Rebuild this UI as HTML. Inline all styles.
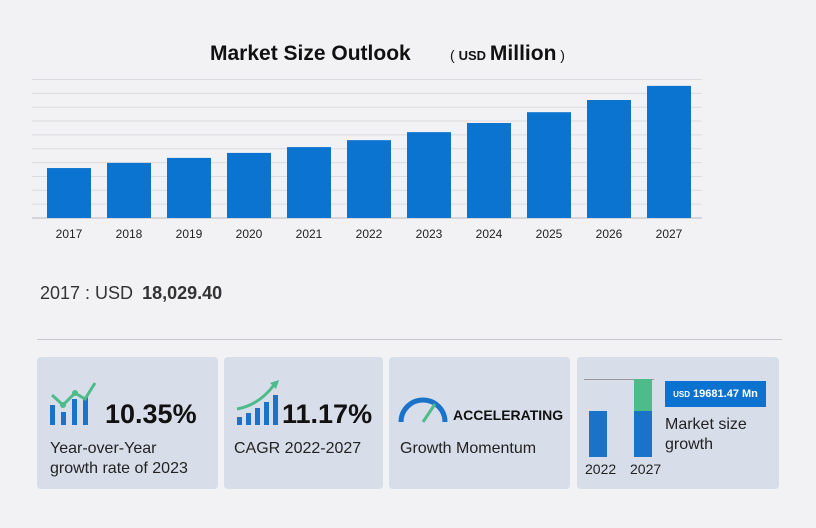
<!DOCTYPE html>
<html><head><meta charset="utf-8"><style>
body{margin:0;width:816px;height:528px;background:#f2f2f4;font-family:"Liberation Sans",sans-serif;position:relative;overflow:hidden}
.card{position:absolute;top:357px;height:132px;background:#d8dee9;border-radius:4px}
.big{position:absolute;font-weight:bold;font-size:27px;color:#111}
.sub{position:absolute;font-size:16px;color:#222;line-height:20px}
</style></head><body>
<svg id="chart" width="816" height="260" style="position:absolute;left:0;top:0">
<text x="210" y="60" font-size="21" font-weight="bold" fill="#111">Market Size Outlook</text>
<text x="450" y="60" font-size="14" fill="#111">( <tspan font-size="13" font-weight="bold">USD</tspan> <tspan font-size="21" font-weight="bold">Million</tspan> )</text>
<g id="grid"></g><g id="bars"></g><g id="labels"></g>
</svg>
<div style="position:absolute;left:40px;top:283px;font-size:18px;color:#333">2017 : USD <b style="margin-left:4px">18,029.40</b></div>
<div style="position:absolute;left:37px;top:339px;width:745px;height:1px;background:#c8c8cc"></div>

<div class="card" style="left:37px;width:181px">
<svg width="60" height="50" style="position:absolute;left:10px;top:20px"><rect x="3" y="28" width="5" height="20" fill="#1a73c9"/><rect x="14" y="35" width="5" height="13" fill="#1a73c9"/><rect x="25" y="22" width="5" height="26" fill="#1a73c9"/><rect x="36" y="20" width="5" height="28" fill="#1a73c9"/><polyline points="5,18 16,28 28,16 38,22 48,6" fill="none" stroke="#4dbb8a" stroke-width="3"/><circle cx="16" cy="28" r="3" fill="#4dbb8a"/><circle cx="28" cy="16" r="3" fill="#4dbb8a"/></svg>
<div class="big" style="left:68px;top:42px">10.35%</div>
<div class="sub" style="left:13px;top:82px">Year-over-Year<br>growth rate of 2023</div></div>

<div class="card" style="left:224px;width:159px">
<svg width="50" height="50" style="position:absolute;left:10px;top:20px"><rect x="3" y="40" width="5" height="8" fill="#1a73c9"/><rect x="12" y="36" width="5" height="12" fill="#1a73c9"/><rect x="21" y="31" width="5" height="17" fill="#1a73c9"/><rect x="30" y="25" width="5" height="23" fill="#1a73c9"/><rect x="39" y="18" width="5" height="30" fill="#1a73c9"/><path d="M3 32 Q25 28 40 8" fill="none" stroke="#4dbb8a" stroke-width="3"/><polygon points="36,6 45,3 42,12" fill="#4dbb8a"/></svg>
<div class="big" style="left:58px;top:42px">11.17%</div>
<div class="sub" style="left:10px;top:82px">CAGR 2022-2027</div></div>

<div class="card" style="left:389px;width:181px">
<svg width="52" height="40" style="position:absolute;left:8px;top:35px"><path d="M4 30 A22 22 0 0 1 48 30" fill="none" stroke="#1a73c9" stroke-width="5"/><line x1="26" y1="30" x2="38" y2="12" stroke="#4dbb8a" stroke-width="3"/></svg>
<div style="position:absolute;left:64px;top:50px;font-weight:bold;font-size:14px;color:#111">ACCELERATING</div>
<div class="sub" style="left:11px;top:82px">Growth Momentum</div></div>

<div class="card" style="left:577px;width:202px">
<div style="position:absolute;left:7px;top:22px;width:70px;height:1px;background:#999"></div>
<div style="position:absolute;left:12px;top:54px;width:18px;height:46px;background:#1a73c9"></div>
<div style="position:absolute;left:57px;top:22px;width:18px;height:32px;background:#4dbb8a"></div>
<div style="position:absolute;left:57px;top:54px;width:18px;height:46px;background:#1a73c9"></div>
<div style="position:absolute;left:8px;top:104px;font-size:14px;color:#222">2022</div>
<div style="position:absolute;left:53px;top:104px;font-size:14px;color:#222">2027</div>
<div style="position:absolute;left:88px;top:24px;width:101px;height:26px;background:#0b73cf;color:#fff;font-weight:bold;font-size:11px;line-height:26px;text-align:center"><span style="font-size:8px">USD</span> 19681.47 Mn</div>
<div class="sub" style="left:88px;top:58px">Market size<br>growth</div></div>

<script>
const years=["2017","2018","2019","2020","2021","2022","2023","2024","2025","2026","2027"];
const values=[18029,19900,21700,23500,25600,28100,31000,34300,38200,42600,47700];
const gridTicks=[0,5000,10000,15000,20000,25000,30000,35000,40000,45000,50000];
const NS="http://www.w3.org/2000/svg";
const y0=218,ymax=50000,ytop=79.5,xl=32,xr=702;
const y=v=>y0-(v/ymax)*(y0-ytop);
const x=i=>69+i*60;
const g=document.getElementById('grid'),b=document.getElementById('bars'),l=document.getElementById('labels');
gridTicks.forEach(t=>{const e=document.createElementNS(NS,'line');


e.setAttribute('x1',xl);e.setAttribute('x2',xr);e.setAttribute('y1',y(t));e.setAttribute('y2',y(t));
e.setAttribute('stroke',t===0?'#b8b8be':'#dcdce0');e.setAttribute('stroke-width','1');g.appendChild(e);});
values.forEach((v,i)=>{const r=document.createElementNS(NS,'rect');


r.setAttribute('x',x(i)-22);r.setAttribute('width',44);r.setAttribute('y',y(v));r.setAttribute('height',y0-y(v));r.setAttribute('fill','#0b74d0');b.appendChild(r);
const t=document.createElementNS(NS,'text');


t.setAttribute('x',x(i));t.setAttribute('y',238);t.setAttribute('text-anchor','middle');t.setAttribute('font-size','12');t.setAttribute('fill','#222');t.textContent=years[i];l.appendChild(t);});
</script>
</body></html>
